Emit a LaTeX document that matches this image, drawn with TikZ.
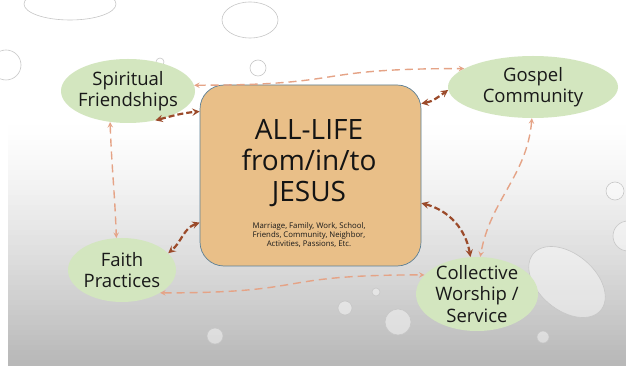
\documentclass[tikz,border=0pt]{standalone}
\usepackage{fontspec}
\setmainfont{Open Sans}
\usepackage{tikz}
\usepackage{xcolor}
\usetikzlibrary{
    arrows,
    shapes
}
\definecolor{leafgreen}{HTML}{D3E6BF}
\definecolor{sand}{HTML}{E9BF88}
\definecolor{slateedge}{HTML}{5C7F95}
\definecolor{salmonline}{HTML}{E5A386}
\definecolor{rustline}{HTML}{9B4A2A}

\begin{document}
\begin{tikzpicture}[x=1pt, y=1pt,
    bubble/.style={ellipse, fill=leafgreen, draw=none, inner sep=0pt},
    bubbletext/.style={align=center, text=black!90, font=\fontsize{18.5}{21.5}\selectfont},
    lifebox/.style={rectangle, rounded corners=24pt, fill=sand, draw=slateedge, line width=0.7pt,
        minimum width=221pt, minimum height=181pt, inner sep=0pt},
    outerlink/.style={<->, >=stealth, line width=1.4pt, draw=salmonline, dash pattern=on 8pt off 5pt},
    innerlink/.style={<->, >=stealth, line width=2.2pt, draw=rustline, dash pattern=on 6pt off 3pt},
    drop/.style={draw=black!22, fill=white, fill opacity=0.45, line width=0.6pt}
]
            % slide background, white at the top and greyer towards the bottom
            \fill[white] (0,0) rectangle (626,-362);
            \foreach \i in {0,...,48} {
                \pgfmathsetmacro\greylevel{28*(\i/48)^1.3}
                \fill[black!\greylevel] (8,-120-5*\i) rectangle (626,-125.6-5*\i);
            }
            \useasboundingbox (0,0) rectangle (626,-362);

            % water drops
            \draw[drop] (70,-4) ellipse (46 and 16);
            \draw[drop] (250,-20) ellipse (28 and 18);
            \draw[drop] (258,-68) circle (8);
            \draw[drop] (160,-62) circle (4);
            \draw[drop] (6,-65) circle (15);
            \draw[drop] (615,-191) circle (9);
            \draw[drop] (628,-236) circle (15);
            \draw[drop, rotate around={-40:(567,-282)}] (567,-282) ellipse (44 and 28);
            \draw[drop] (345,-308) circle (7);
            \draw[drop] (376,-292) circle (4);
            \draw[drop] (398,-322) circle (13);
            \draw[drop] (215,-336) circle (8);
            \draw[drop] (543,-337) circle (6);

            % nodes
            \node[bubble, minimum width=134pt, minimum height=64pt,
                  label={[bubbletext]center:Spiritual\\Friendships}] (spiritual) at (128,-91) {};
            \node[bubble, minimum width=170pt, minimum height=62pt,
                  label={[bubbletext]center:Gospel\\Community}] (gospel) at (533,-87) {};
            \node[bubble, minimum width=108pt, minimum height=64pt,
                  label={[bubbletext]center:Faith\\Practices}] (faith) at (122,-270) {};
            \node[bubble, minimum width=122pt, minimum height=74pt,
                  label={[bubbletext]center:Collective\\Worship /\\Service}] (collective) at (477,-294) {};

            \node[lifebox] (life) at (310.5,-175.5) {};
            \node[align=center, text=black!92, font=\fontsize{28}{31}\selectfont] (title) at (309,-163) {ALL-LIFE\\from/in/to\\JESUS};
            \node[align=center, text=black!90, font=\fontsize{7.8}{9.2}\selectfont] (areas) at (309,-235) {Marriage, Family, Work, School,\\Friends, Community, Neighbor,\\Activities, Passions, Etc.};

            % outer loop
            \draw[outerlink] (spiritual.5) to[out=0, in=180, looseness=1.5] (gospel.165);
            \draw[outerlink] (spiritual.-120) to[out=-88, in=92] (faith.100);
            \draw[outerlink] (faith.-31) to[out=0, in=180, looseness=1.5] (collective.160);
            \draw[outerlink] (gospel.-92) to[out=-95, in=80] (collective.85);

            % links to the centre
            \draw[innerlink] (spiritual.-47) to[out=15, in=185] (life.150);
            \draw[innerlink] (life.33) to[out=10, in=215] (gospel.182);
            \draw[innerlink] (life.203) to[out=200, in=40] (faith.20);
            \draw[innerlink] (life.-14) to[out=-15, in=100] (collective.100);
\end{tikzpicture}
\end{document}
